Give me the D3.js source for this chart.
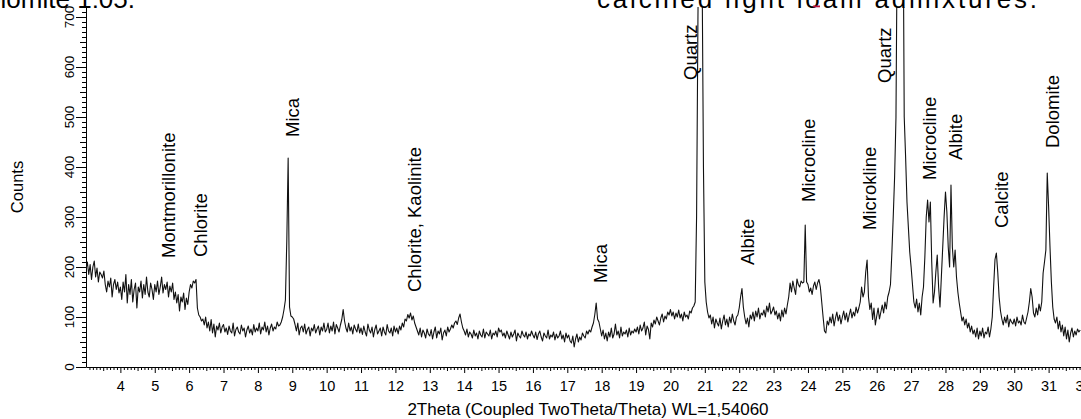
<!DOCTYPE html>
<html>
<head>
<meta charset="utf-8">
<title>XRD pattern - clay with dolomite and calcined light loam</title>
<script src="https://d3js.org/d3.v7.min.js"></script>
<style>
  body { margin: 0; background: #fff; }
  svg { display: block; font-family: "Liberation Sans", Arial, sans-serif; }
</style>
</head>
<body>
<div id="chart"></div>
<script>
// scan settings (2Theta start and step, degrees)
const scanStart = 3.0;
const scanStep = 0.04;

// counts, one block of 25 points per degree (x.00 ... x.96)
const deg03 = [195,210,185,205,175,200,212,180,198,170,190,185,178,192,165,150,172,160,178,140,165,175,155,170,148];
const deg04 = [160,135,170,150,185,128,165,145,175,130,155,168,118,160,150,172,138,165,145,180,150,140,168,155,135];
const deg05 = [165,150,172,145,160,180,148,165,155,170,140,162,150,168,135,150,128,145,112,140,130,148,115,138,125];
const deg06 = [150,165,158,172,168,175,118,104,100,92,96,84,100,78,90,72,95,68,86,60,82,74,88,68,80];
const deg07 = [85,70,78,65,82,72,68,88,62,75,80,70,66,84,72,78,60,74,82,68,76,64,85,70,78];
const deg08 = [72,88,66,80,74,90,70,82,64,78,86,72,80,76,90,82,84,90,100,115,134,250,418,120,102];
const deg09 = [100,96,85,72,88,64,78,82,70,86,66,75,80,62,78,72,85,68,76,82,64,80,72,88,70];
const deg10 = [75,88,68,82,72,90,66,85,78,70,84,95,115,92,78,70,88,72,80,66,84,76,70,86,68];
const deg11 = [78,65,82,70,62,86,74,68,80,60,75,84,66,72,78,62,80,70,64,85,72,68,78,62,82];
const deg12 = [70,78,66,82,74,88,80,96,92,105,98,108,94,102,88,80,72,64,78,60,74,68,58,76,66];
const deg13 = [62,75,56,70,80,58,72,66,78,54,68,74,62,80,70,76,84,78,88,92,85,98,106,90,78];
const deg14 = [72,64,76,60,70,66,58,74,62,68,56,72,64,60,76,58,70,66,62,74,56,68,64,72,60];
const deg15 = [78,70,74,62,68,58,72,64,56,70,60,66,74,52,68,62,58,72,64,60,70,56,66,62,72];
const deg16 = [64,58,70,55,66,72,60,52,68,62,58,74,56,64,60,70,54,66,58,62,72,56,64,50,68];
const deg17 = [58,64,52,48,62,40,56,66,50,60,54,68,62,58,72,66,74,70,80,88,105,128,96,90,76];
const deg18 = [62,74,56,68,52,70,60,78,58,66,86,64,72,58,80,62,70,66,74,60,78,64,72,68,76];
const deg19 = [70,80,66,84,72,78,90,64,82,75,56,88,80,94,86,100,92,84,98,106,90,102,96,110,104];
const deg20 = [115,102,110,96,108,100,114,98,106,92,110,100,104,96,112,108,118,122,130,300,700,1000,1000,800,400];
const deg21 = [170,130,110,98,104,86,100,78,96,88,82,98,76,92,104,84,96,80,100,88,106,92,84,100,104];
const deg22 = [118,140,157,120,100,86,98,80,104,96,110,92,112,100,118,96,108,104,114,100,122,110,128,106,112];
const deg23 = [120,104,112,96,108,92,114,100,118,106,124,140,168,150,172,158,145,176,165,160,172,168,170,284,170];
const deg24 = [165,150,158,145,162,170,155,168,175,160,130,100,72,68,92,84,100,88,106,82,98,110,92,104,86];
const deg25 = [100,112,94,108,90,104,116,98,110,102,120,108,118,130,160,140,150,190,214,140,115,128,95,118,84];
const deg26 = [102,118,96,110,124,108,130,116,140,150,165,228,300,380,500,900,1500,1800,1500,1000,500,420,330,280,230];
const deg27 = [200,165,130,118,136,110,128,104,140,160,220,300,334,290,330,210,128,150,190,224,160,120,180,240,300];
const deg28 = [350,310,240,200,364,240,200,234,180,150,128,110,92,100,84,96,78,88,70,82,66,74,60,78,56];
const deg29 = [72,62,78,58,70,66,80,60,76,100,160,215,228,190,140,112,96,84,100,88,104,80,96,90,86];
const deg30 = [96,82,100,88,92,84,104,90,86,98,110,130,157,140,108,100,118,104,126,112,130,188,210,234,388];
const deg31 = [320,240,170,120,96,88,100,76,92,70,84,62,80,56,74,50,68,78,60,72,64,76,70,74];

// phase labels: name, 2Theta of label, count where label starts
const peakNames = ["Montmorillonite", "Chlorite", "Mica", "Chlorite, Kaolinite", "Mica", "Quartz", "Albite",
                   "Microcline", "Microkline", "Quartz", "Microcline", "Albite", "Calcite", "Dolomite"];
const peakPos = [5.39, 6.32, 9.02, 12.57, 17.98, 20.57, 22.23, 24.03, 25.80, 26.24, 27.55, 28.28, 29.64, 31.10];
const labelBase = [218, 220, 460, 150, 168, 574, 204, 330, 274, 568, 374, 414, 278, 438];

const xTicks = d3.range(4, 33);
const yTicks = [0, 100, 200, 300, 400, 500, 600, 700];

const counts = [].concat(deg03, deg04, deg05, deg06, deg07, deg08, deg09, deg10, deg11, deg12,
  deg13, deg14, deg15, deg16, deg17, deg18, deg19, deg20, deg21, deg22, deg23, deg24, deg25,
  deg26, deg27, deg28, deg29, deg30, deg31);

const scan = counts.map(function(c, i) {
  return { angle: scanStart + i * scanStep, count: c };
});

const width = 1081;
const height = 419;

const svg = d3.select("#chart")
  .append("svg")
  .attr("width", width)
  .attr("height", height);

const x = d3.scaleLinear().domain([3, 32]).range([86, 1083]);
const y = d3.scaleLinear().domain([0, 720]).range([367, 7]);

// clip so the big quartz peaks stop at the top of the plot
svg.append("clipPath").attr("id", "plot-clip")
  .append("rect")
  .attr("x", x(3)).attr("y", y(720))
  .attr("width", x(32) - x(3)).attr("height", y(0) - y(720) + 1);

// x axis: minor 0.1, medium 0.5, major integer ticks
const minorX = d3.range(30, 321).map(d => d / 10).filter(d => Math.round(d * 10) % 5 !== 0);
const midX = d3.range(3.5, 32, 1);

const gx = svg.append("g").attr("transform", `translate(0,${y(0)})`);
gx.append("g").call(d3.axisBottom(x).tickValues(minorX).tickSize(3).tickFormat(""))
  .call(g => g.select(".domain").remove());
gx.append("g").call(d3.axisBottom(x).tickValues(midX).tickSize(4).tickFormat(""))
  .call(g => g.select(".domain").remove());
gx.append("g").call(d3.axisBottom(x).tickValues(xTicks).tickSize(6).tickSizeOuter(0).tickPadding(8))
  .call(g => g.selectAll("text").style("font-size", "14.5px").attr("fill", "#000"));

// y axis: minor 10, medium 50, major 100
const minorY = d3.range(0, 720, 10).filter(d => d % 50 !== 0);
const midY = d3.range(50, 720, 100);

const gy = svg.append("g").attr("transform", `translate(${x(3)},0)`);
gy.append("g").call(d3.axisLeft(y).tickValues(minorY).tickSize(4).tickFormat(""))
  .call(g => g.select(".domain").remove());
gy.append("g").call(d3.axisLeft(y).tickValues(midY).tickSize(6).tickFormat(""))
  .call(g => g.select(".domain").remove());
gy.append("g").call(d3.axisLeft(y).tickValues(yTicks).tickSize(10).tickSizeOuter(0).tickFormat(""));

// rotated y tick labels
svg.append("g").selectAll("text")
  .data(yTicks)
  .join("text")
  .attr("transform", d => `translate(74,${y(d)}) rotate(-90)`)
  .attr("text-anchor", "middle")
  .style("font-size", "13.5px")
  .text(d => d);

// the pattern
svg.append("path")
  .datum(scan)
  .attr("clip-path", "url(#plot-clip)")
  .attr("fill", "none")
  .attr("stroke", "#111")
  .attr("stroke-width", 1.1)
  .attr("stroke-linejoin", "round")
  .attr("d", d3.line()
    .x(d => x(d.angle))
    .y(d => y(d.count)));

// phase labels
svg.append("g").selectAll("text")
  .data(peakNames)
  .join("text")
  .attr("transform", (d, i) => `translate(${x(peakPos[i])},${y(labelBase[i])}) rotate(-90)`)
  .attr("dy", "0.35em")
  .style("font-size", "18.5px")
  .text(d => d);

// axis titles
svg.append("text")
  .attr("transform", `translate(23,187) rotate(-90)`)
  .attr("text-anchor", "middle")
  .style("font-size", "16.5px")
  .text("Counts");

svg.append("text")
  .attr("x", 588)
  .attr("y", 415)
  .attr("text-anchor", "middle")
  .style("font-size", "17px")
  .text("2Theta (Coupled TwoTheta/Theta) WL=1,54060");

// caption text cut off at the top of the crop
svg.append("text")
  .attr("x", 135)
  .attr("y", 8)
  .attr("text-anchor", "end")
  .style("font-size", "26px")
  .text("dolomite 1:05.");

svg.append("text")
  .attr("x", 597)
  .attr("y", 8)
  .attr("textLength", 440)
  .attr("lengthAdjust", "spacing")
  .style("font-size", "26px")
  .text("calcined light loam admixtures.");

svg.append("rect")
  .attr("x", 813).attr("y", 5.5)
  .attr("width", 7).attr("height", 1.8)
  .attr("fill", "#b8123c");
</script>
</body>
</html>
